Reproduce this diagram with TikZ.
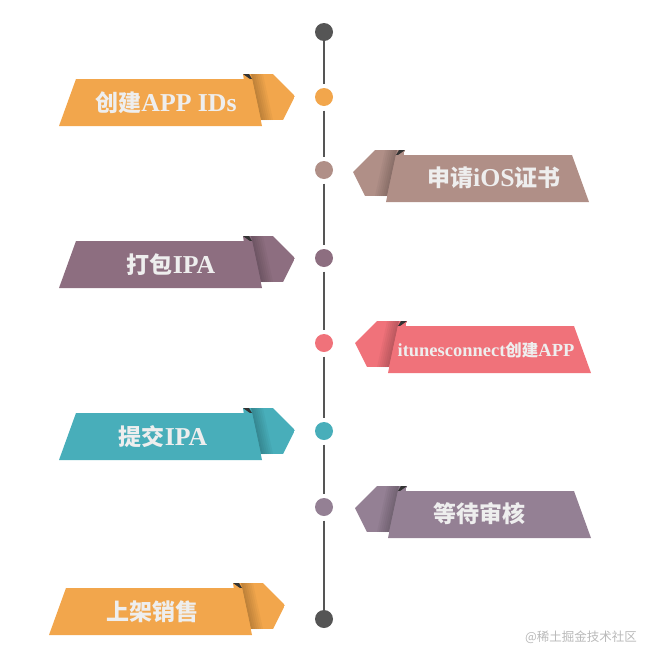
\documentclass[tikz,border=0pt]{standalone}
\usepackage{fontspec}
\setmainfont{Liberation Serif}[Scale=1.12]
\newfontfamily\cjk{Noto Sans CJK SC}
\usepackage{xcolor}
\usepackage{tikz}
\definecolor{tlorange}{RGB}{242,166,76}
\definecolor{tlrose}{RGB}{176,143,135}
\definecolor{tlmauve}{RGB}{141,110,128}
\definecolor{tlred}{RGB}{240,114,122}
\definecolor{tlteal}{RGB}{72,174,186}
\definecolor{tllilac}{RGB}{148,128,148}
\definecolor{tlgray}{RGB}{85,85,85}
\definecolor{tltext}{RGB}{238,238,238}

% banner: tip x, tip y, direction (1 right, -1 left), colour
\newcommand{\banner}[4]{%
  \begin{scope}
    \clip ({#1-#3*52},{#2-22}) -- ({#1-#3*22},{#2-22}) -- (#1,#2)
      -- ({#1-#3*12},{#2+24}) -- ({#1-#3*45},{#2+24}) -- cycle;
    \fill[#4] ({#1-#3*52},{#2-22}) rectangle (#1,{#2+24});
    \foreach \w in {2,4,...,12}
      \fill[black, opacity=0.035] ({#1-#3*44},{#2-22}) -- ({#1-#3*(44-\w)},{#2-22})
        -- ({#1-#3*(34-\w)},{#2+24}) -- ({#1-#3*34},{#2+24}) -- cycle;
    \fill[black!80] ({#1-#3*52},{#2-22}) -- ({#1-#3*46},{#2-22}) -- ({#1-#3*43},{#2-17})
      -- ({#1-#3*45},{#2-17}) -- cycle;
  \end{scope}
  \fill[#4] ({#1-#3*219},{#2-17}) -- ({#1-#3*43},{#2-17}) -- ({#1-#3*33},{#2+30})
    -- ({#1-#3*236},{#2+30}) -- cycle;
}

\begin{document}
\begin{tikzpicture}[x=1pt, y=-1pt,
    dot/.style={circle, fill=#1, minimum size=18pt, inner sep=0pt, outer sep=0pt},
    gapdot/.style={dot=#1, outer sep=4.5pt},
    spine/.style={tlgray, line width=2.8pt},
    tag/.style={text=tltext, font=\fontsize{23}{23}\selectfont\bfseries, inner sep=0pt},
    smalltag/.style={tag, font=\fontsize{16.5}{16.5}\selectfont\bfseries}]
   \useasboundingbox (0,0) rectangle (650,651);
   % timeline
   \node[dot=tlgray] (d0) at (324,32) {};
   \node[gapdot=tlorange] (d1) at (324,97) {};
   \node[gapdot=tlrose] (d2) at (324,170) {};
   \node[gapdot=tlmauve] (d3) at (324,258) {};
   \node[gapdot=tlred] (d4) at (324,343) {};
   \node[gapdot=tlteal] (d5) at (324,431) {};
   \node[gapdot=tllilac] (d6) at (324,507) {};
   \node[dot=tlgray] (d7) at (324,619) {};
   \foreach \a/\b in {d0/d1,d1/d2,d2/d3,d3/d4,d4/d5,d5/d6,d6/d7}
      \draw[spine] (\a) -- (\b);

   % banners
   \banner{295}{96}{1}{tlorange}
   \banner{353}{172}{-1}{tlrose}
   \banner{295}{258}{1}{tlmauve}
   \banner{355}{343}{-1}{tlred}
   \banner{295}{430}{1}{tlteal}
   \banner{355}{508}{-1}{tllilac}
   \banner{285}{605}{1}{tlorange}

   \node[tag] (t1) at (166,103) {{\cjk 创建}APP IDs};
   \node[tag] (t2) at (494,178) {{\cjk 申请}iOS{\cjk 证书}};
   \node[tag] (t3) at (171,265) {{\cjk 打包}IPA};
   \node[smalltag] (t4) at (486,350) {itunesconnect{\cjk 创建}APP};
   \node[tag] (t5) at (163,437) {{\cjk 提交}IPA};
   \node[tag] (t6) at (479,514) {\cjk 等待审核};
   \node[tag] (t7) at (152,612) {\cjk 上架销售};

   \node[text=gray!55, font=\cjk\fontsize{12.5}{12.5}\selectfont] (mark) at (581,637) {@稀土掘金技术社区};
\end{tikzpicture}
\end{document}
